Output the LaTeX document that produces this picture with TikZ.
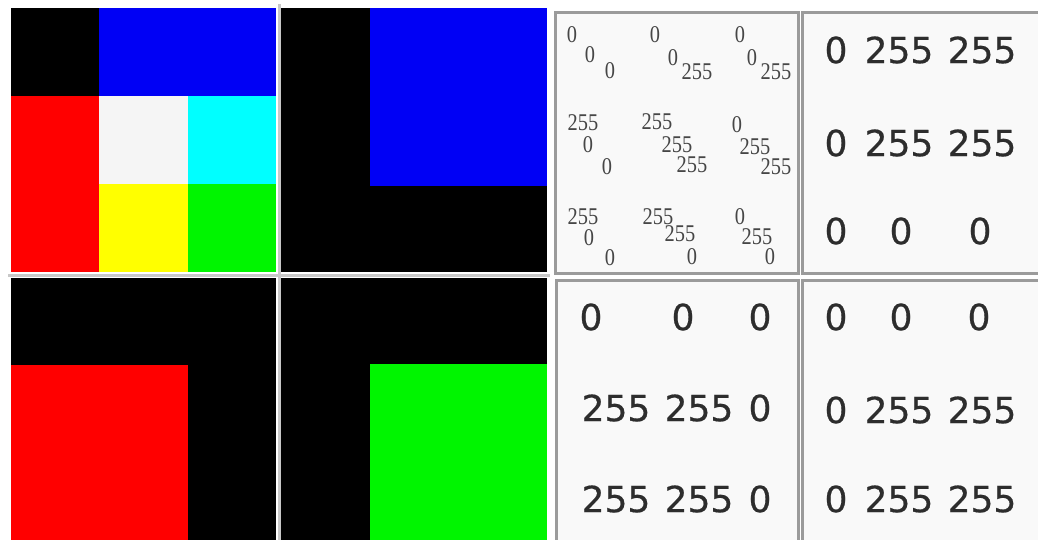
\documentclass[tikz,border=0pt]{standalone}
\usepackage{fontspec}
\newfontfamily\bignum[FakeBold=0.5]{DejaVu Sans}
\newfontfamily\smallnum[FakeStretch=0.85]{Liberation Serif}
\definecolor{pred}{RGB}{255,0,0}
\definecolor{pblue}{RGB}{0,0,245}
\definecolor{pgreen}{RGB}{0,245,0}
\definecolor{pyellow}{RGB}{255,255,0}
\definecolor{pcyan}{RGB}{0,255,255}
\definecolor{pwhite}{RGB}{245,245,245}
\definecolor{sepgray}{RGB}{200,200,200}
\definecolor{boxgray}{RGB}{155,155,155}
\definecolor{boxfill}{RGB}{249,249,249}
\definecolor{txt}{RGB}{45,45,45}
\definecolor{stxt}{RGB}{70,70,70}
\begin{document}
\begin{tikzpicture}[x=1pt,y=-1pt,
  sepline/.style={draw=sepgray,line width=3pt},
  valbox/.style={draw=boxgray,fill=boxfill,line width=3pt},
  big/.style={inner sep=0pt,text=txt,font=\bignum\fontsize{36}{36}\selectfont},
  sm/.style={inner sep=0pt,text=stxt,font=\smallnum\fontsize{24}{24}\selectfont}]
\useasboundingbox (0,0) rectangle (1038,540);
\fill[white] (0,0) rectangle (1038,540);
\begin{scope}
\clip (0,0) rectangle (1038,540);
% panel 1
\fill[black] (11,8) rectangle (99,96);
\fill[pblue] (99,8) rectangle (276,96);
\fill[pred] (11,96) rectangle (99,272);
\fill[pwhite] (99,96) rectangle (188,184);
\fill[pcyan] (188,96) rectangle (276,184);
\fill[pyellow] (99,184) rectangle (188,272);
\fill[pgreen] (188,184) rectangle (276,272);
% panel 2
\fill[black] (281,8) rectangle (547,272);
\fill[pblue] (370,8) rectangle (547,186);
% panel 3
\fill[black] (11,278) rectangle (276,540);
\fill[pred] (11,365) rectangle (188,540);
% panel 4
\fill[black] (281,278) rectangle (547,540);
\fill[pgreen] (370,364) rectangle (547,540);
% separators
\draw[sepline] (279,4) -- (279,540);
\draw[sepline] (8,275) -- (550,275);
% value boxes
\draw[valbox] (555,13) rectangle (798,273);
\draw[valbox] (802,13) rectangle (1046,273);
\draw[valbox] (556,280) rectangle (798,546);
\draw[valbox] (802,280) rectangle (1046,546);
\end{scope}
% small stacked values
\begin{scope}
\clip (557,15) rectangle (796,271);
\node[sm] (a1) at (572,35) {0};
\node[sm] (a2) at (590,55) {0};
\node[sm] (a3) at (610,71) {0};
\node[sm] (b1) at (655,35) {0};
\node[sm] (b2) at (673,58) {0};
\node[sm] (b3) at (697,72) {255};
\node[sm] (c1) at (740,35) {0};
\node[sm] (c2) at (752,58) {0};
\node[sm] (c3) at (776,72) {255};
\node[sm] (d1) at (583,123) {255};
\node[sm] (d2) at (588,145) {0};
\node[sm] (d3) at (607,167) {0};
\node[sm] (e1) at (657,122) {255};
\node[sm] (e2) at (677,145) {255};
\node[sm] (e3) at (692,165) {255};
\node[sm] (f1) at (737,125) {0};
\node[sm] (f2) at (755,147) {255};
\node[sm] (f3) at (776,167) {255};
\node[sm] (g1) at (583,217) {255};
\node[sm] (g2) at (589,238) {0};
\node[sm] (g3) at (610,258) {0};
\node[sm] (h1) at (658,217) {255};
\node[sm] (h2) at (680,234) {255};
\node[sm] (h3) at (692,257) {0};
\node[sm] (i1) at (740,217) {0};
\node[sm] (i2) at (757,237) {255};
\node[sm] (i3) at (770,257) {0};
\end{scope}
% top right values
\node[big] (p1) at (836,50) {0};
\node[big] (p2) at (899,50) {255};
\node[big] (p3) at (982,50) {255};
\node[big] (q1) at (836,143) {0};
\node[big] (q2) at (899,143) {255};
\node[big] (q3) at (982,143) {255};
\node[big] (r1) at (836,231) {0};
\node[big] (r2) at (901,231) {0};
\node[big] (r3) at (980,231) {0};
% bottom middle values
\node[big] (s1) at (591,317) {0};
\node[big] (s2) at (683,317) {0};
\node[big] (s3) at (760,317) {0};
\node[big] (t1) at (616,408) {255};
\node[big] (t2) at (699,408) {255};
\node[big] (t3) at (760,408) {0};
\node[big] (u1) at (616,499) {255};
\node[big] (u2) at (699,499) {255};
\node[big] (u3) at (760,499) {0};
% bottom right values
\node[big] (v1) at (836,317) {0};
\node[big] (v2) at (901,317) {0};
\node[big] (v3) at (979,317) {0};
\node[big] (w1) at (836,410) {0};
\node[big] (w2) at (899,410) {255};
\node[big] (w3) at (982,410) {255};
\node[big] (x1) at (836,499) {0};
\node[big] (x2) at (899,499) {255};
\node[big] (x3) at (982,499) {255};
\end{tikzpicture}
\end{document}
